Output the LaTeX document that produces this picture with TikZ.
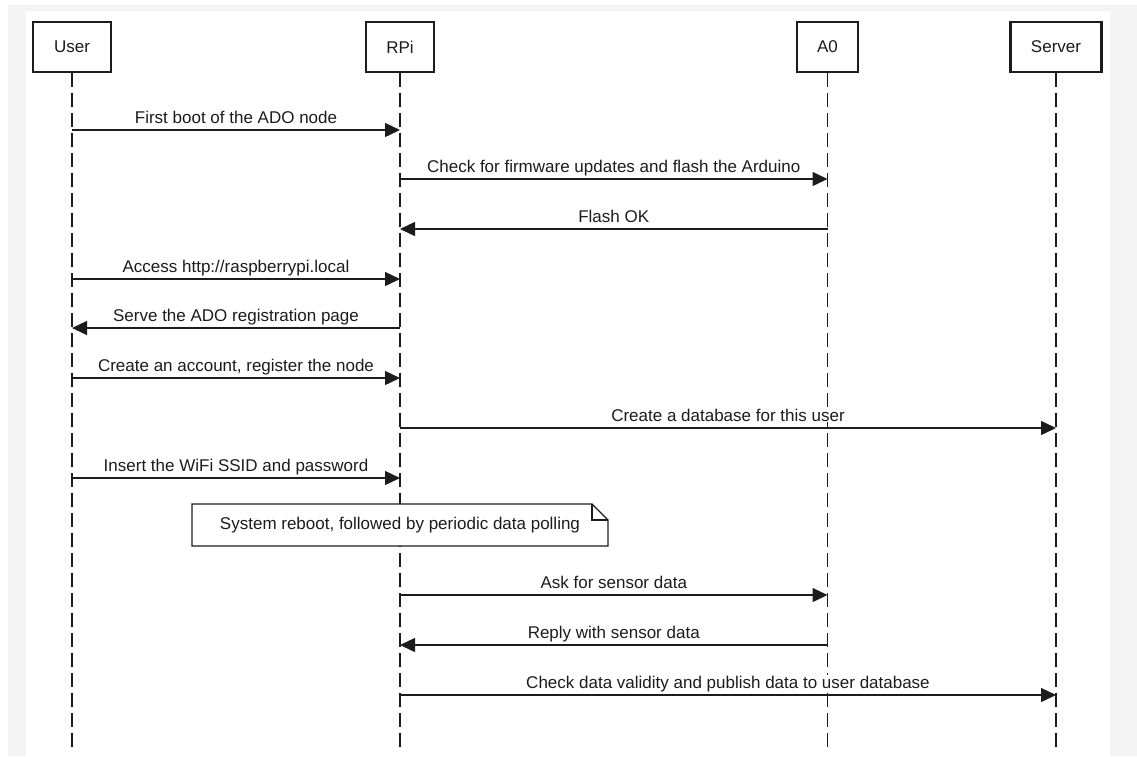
\documentclass[tikz,border=0pt]{standalone}
\usepackage{fontspec}
\setmainfont{Liberation Sans}
\usetikzlibrary{arrows.meta}
\definecolor{ink}{HTML}{1C1C1C}
\definecolor{frame}{HTML}{F4F4F4}
\begin{document}
\begin{tikzpicture}[x=1pt,y=-1pt,
  every node/.style={font=\fontsize{17}{20}\selectfont, text=ink},
  actor/.style={draw=ink, line width=2.8pt, fill=white, minimum height=50pt, inner sep=0pt},
  lifeline/.style={draw=ink, line width=1.8pt, dash pattern=on 14pt off 6pt},
  msg/.style={draw=ink, line width=1.4pt, -{Triangle[length=15pt,width=14pt]}},
  lbl/.style={midway, anchor=base, yshift=7pt, fill=white, inner sep=1pt},
  notebox/.style={draw=ink, line width=1.4pt, fill=white}]
\useasboundingbox (0,0) rectangle (1137,756);
\fill[frame] (8,5) rectangle (1137,756);
\fill[white] (26,11) rectangle (1110,756);

% actors
\node[actor, minimum width=78pt] (user) at (72,47) {User};
\node[actor, minimum width=68pt] (rpi) at (400,47) {RPi};
\node[actor, minimum width=61pt] (ao) at (827.5,47) {A0};
\node[actor, minimum width=91pt] (server) at (1056,47) {Server};

% lifeline ends
\coordinate (userEnd) at (72,751);
\coordinate (rpiEnd) at (400,751);
\coordinate (aoEnd) at (827.5,751);
\coordinate (serverEnd) at (1056,751);

\draw[lifeline] (user.south) -- (userEnd);
\draw[lifeline] (rpi.south) -- (rpiEnd);
\draw[lifeline] (ao.south) -- (aoEnd);
\draw[lifeline] (server.south) -- (serverEnd);

% message anchor points
\foreach \n/\y in {1/130,2/179,3/229,4/279,5/328,6/378,7/428,8/478,9/595,10/645,11/695}{
  \coordinate (u\n) at (72,\y);
  \coordinate (r\n) at (400,\y);
  \coordinate (a\n) at (827.5,\y);
  \coordinate (s\n) at (1056,\y);
}

\draw[msg] (u1) -- (r1) node[lbl] {First boot of the ADO node};
\draw[msg] (r2) -- (a2) node[lbl] {Check for firmware updates and flash the Arduino};
\draw[msg] (a3) -- (r3) node[lbl] {Flash OK};
\draw[msg] (u4) -- (r4) node[lbl] {Access http://raspberrypi.local};
\draw[msg] (r5) -- (u5) node[lbl] {Serve the ADO registration page};
\draw[msg] (u6) -- (r6) node[lbl] {Create an account, register the node};
\draw[msg] (r7) -- (s7) node[lbl] {Create a database for this user};
\draw[msg] (u8) -- (r8) node[lbl] {Insert the WiFi SSID and password};
\draw[msg] (r9) -- (a9) node[lbl] {Ask for sensor data};
\draw[msg] (a10) -- (r10) node[lbl] {Reply with sensor data};
\draw[msg] (r11) -- (s11) node[lbl] {Check data validity and publish data to user database};

% note
\draw[notebox] (192,504) -- (592,504) -- (608,520) -- (608,546) -- (192,546) -- cycle;
\draw[draw=ink, line width=1.4pt] (592,504) -- (592,520) -- (608,520);
\node (note) at (400,525) {System reboot, followed by periodic data polling};
\end{tikzpicture}
\end{document}
